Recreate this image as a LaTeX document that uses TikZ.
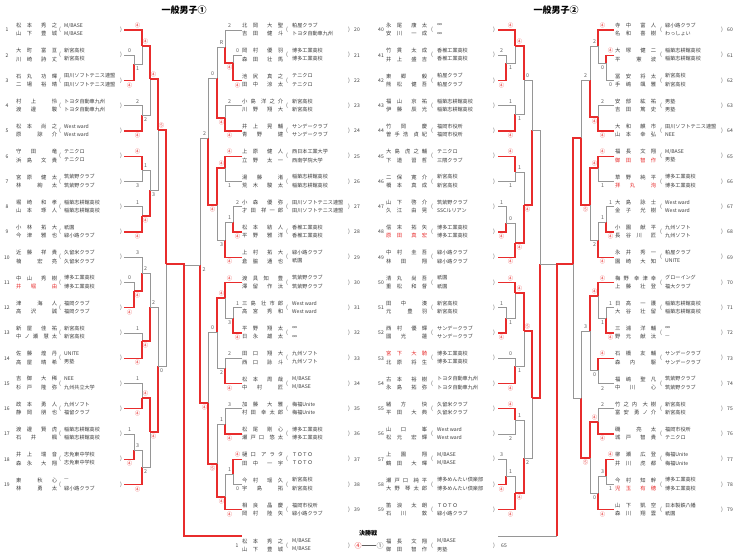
\documentclass[tikz,border=0pt]{standalone}
\usepackage{fontspec}
\setmainfont{Noto Sans CJK JP}
\usetikzlibrary{calc}
\definecolor{rd}{RGB}{232,44,44}
\definecolor{gy}{RGB}{150,150,150}
\definecolor{dg}{RGB}{95,95,95}
\definecolor{tx}{RGB}{60,60,60}
\newlength\nmw \setlength\nmw{41pt}
\def\spr#1#2\sprend{#1\ifx\relax#2\relax\else\hfill\spr#2\sprend\fi}
\newcommand\nm[2]{\hbox to \nmw{\spr#1\sprend\hskip 0pt plus 1.7fill\relax\spr#2\sprend}}
\newcommand\rnm[2]{\textcolor{rd}{\nm{#1}{#2}}}
\tikzset{
 nmst/.style={anchor=west,inner sep=0pt,font=\fontsize{5.3}{6}\selectfont,text=tx},
 clst/.style={anchor=west,inner sep=0pt,font=\fontsize{5.1}{6}\selectfont,text=tx},
 nost/.style={inner sep=0pt,font=\fontsize{5}{6}\selectfont,text=tx},
 pst/.style={inner sep=0pt,font=\fontsize{5.5}{6}\selectfont,text=dg},
 rl/.style={draw=rd,line width=1.1pt},
 gl/.style={draw=gy,line width=0.75pt},
 sc/.style={inner sep=0pt,font=\fontsize{5.3}{6}\selectfont},
 ttl/.style={inner sep=0pt,font=\bfseries\fontsize{9}{10}\selectfont,text=black},
}
% entry: id, shown number, y, name1, name2, club1, club2
\newcommand\EE[7]{%
 \node[nost] (k#1) at (\cNum,#3) {#2};
 \node[nmst] (n#1a) at (\cNm,{#3-4.5}) {#4};
 \node[nmst] (n#1b) at (\cNm,{#3+3.8}) {#5};
 \node[pst] (p#1) at (\cPa,#3) {(};
 \node[clst] (c#1a) at (\cCl,{#3-4.5}) {#6};
 \node[clst] (c#1b) at (\cCl,{#3+3.8}) {#7};
 \node[pst] (q#1) at (\cPb,#3) {)};
}
% match: x, xt, yt, st, xb, yb, sb, yout, id
\newcommand\MT[9]{%
 \draw[gl] (#1,#8) -- (#1,#6) -- (#5,#6);
 \draw[rl] (#2,#3) -- (#1,#3) -- (#1,#8);
 \node[sc,text=rd] (#9t) at ($(#1,#3)!4.5pt!(#2,#3)+(0,-4.4)$) {#4};
 \node[sc,text=dg] (#9b) at ($(#1,#6)!4.5pt!(#5,#6)+(0,4.6)$) {#7};
}
\newcommand\MB[9]{%
 \draw[gl] (#2,#3) -- (#1,#3) -- (#1,#8);
 \draw[rl] (#1,#8) -- (#1,#6) -- (#5,#6);
 \node[sc,text=dg] (#9t) at ($(#1,#3)!4.5pt!(#2,#3)+(0,-4.4)$) {#4};
 \node[sc,text=rd] (#9b) at ($(#1,#6)!4.5pt!(#5,#6)+(0,4.6)$) {#7};
}
\begin{document}
\begin{tikzpicture}[x=1pt,y=-1pt]
\useasboundingbox (0,0) rectangle (740,560);
\fill[white] (0,0) rectangle (740,560);
\node[ttl] (title1) at (184,10) {一般男子①};
\node[ttl] (title2) at (556,10) {一般男子②};
% ---------- column A
\def\cNum{7}\def\cNm{16}\def\cPa{60}\def\cCl{64}\def\cPb{121}
\EE{1}{1}{30}{\nm{松本}{秀之}}{\nm{山下}{豊城}}{M/BASE}{M/BASE}
\EE{2}{2}{55.25}{\nm{大町}{富亘}}{\nm{川崎}{詩丈}}{新宮高校}{新宮高校}
\EE{3}{3}{80.5}{\nm{石丸}{功暉}}{\nm{二場}{裕晴}}{田川ソフトテニス連盟}{田川ソフトテニス連盟}
\EE{4}{4}{105.75}{\nm{村上}{怜}}{\nm{渡邊}{駿}}{トヨタ自動車九州}{トヨタ自動車九州}
\EE{5}{5}{131}{\nm{松本}{尚之}}{\nm{原}{諒介}}{West ward}{West ward}
\EE{6}{6}{156.25}{\nm{守田}{竜}}{\nm{浜島}{文貴}}{テニクロ}{テニクロ}
\EE{7}{7}{181.5}{\nm{宮原}{健太}}{\nm{林}{絢太}}{筑紫野クラブ}{筑紫野クラブ}
\EE{8}{8}{206.75}{\nm{堀崎}{和孝}}{\nm{山本}{琢人}}{稲築志耕館高校}{稲築志耕館高校}
\EE{9}{9}{232}{\nm{小林}{拓大}}{\nm{今津}{雅也}}{祇園}{緑小路クラブ}
\EE{10}{10}{257.25}{\nm{近藤}{祥貴}}{\nm{楠}{宏亮}}{久留米クラブ}{久留米クラブ}
\EE{11}{11}{282.5}{\nm{中山}{秀樹}}{\rnm{井堀}{由}}{博多工業高校}{博多工業高校}
\EE{12}{12}{307.75}{\nm{津}{海人}}{\nm{高沢}{誠}}{福岡クラブ}{福岡クラブ}
\EE{13}{13}{333}{\nm{新屋}{佳祐}}{\nm{中ノ瀬}{慧太}}{新宮高校}{新宮高校}
\EE{14}{14}{358.25}{\nm{佐藤}{煌丹}}{\nm{高屋}{晴希}}{UNITE}{男塾}
\EE{15}{15}{383.5}{\nm{吉御}{大稀}}{\nm{杉戸}{隆弥}}{NEE}{九州共立大学}
\EE{16}{16}{408.75}{\nm{政本}{勇人}}{\nm{静岡}{朋也}}{九州ソフト}{福留クラブ}
\EE{17}{17}{434}{\nm{渡邊}{賢虎}}{\nm{石井}{楓}}{稲築志耕館高校}{稲築志耕館高校}
\EE{18}{18}{459.25}{\nm{井上}{瑞音}}{\nm{森永}{大翔}}{志免東中学校}{志免東中学校}
\EE{19}{19}{484.5}{\nm{東}{秋心}}{\nm{林}{勇太}}{—}{緑小路クラブ}
% ---------- column B
\def\cNum{357}\def\cNm{242}\def\cPa{287}\def\cCl{292}\def\cPb{349}
\EE{20}{20}{30}{\nm{北岡}{大聖}}{\nm{吉田}{健斗}}{粕屋クラブ}{トヨタ自動車九州}
\EE{21}{21}{55.25}{\nm{岡村}{優羽}}{\nm{森田}{壮馬}}{博多工業高校}{博多工業高校}
\EE{22}{22}{80.5}{\nm{池尻}{真之}}{\nm{田中}{涼太}}{テニクロ}{テニクロ}
\EE{23}{23}{105.75}{\nm{小島}{洋之介}}{\nm{川野}{翔大}}{新宮高校}{新宮高校}
\EE{24}{24}{131}{\nm{井上}{晃輔}}{\nm{青野}{建}}{サンデークラブ}{サンデークラブ}
\EE{25}{25}{156.25}{\nm{上原}{健人}}{\nm{立野}{太一}}{西日本工業大学}{西南学院大学}
\EE{26}{26}{181.5}{\nm{湯藤}{渚}}{\nm{荒木}{駿太}}{稲築志耕館高校}{稲築志耕館高校}
\EE{27}{27}{206.75}{\nm{小森}{優弥}}{\nm{才田}{祥一郎}}{田川ソフトテニス連盟}{田川ソフトテニス連盟}
\EE{28}{28}{232}{\nm{松本}{結人}}{\nm{平野}{雅洋}}{香椎工業高校}{香椎工業高校}
\EE{29}{29}{257.25}{\nm{上村}{拓大}}{\nm{倉脇}{通也}}{緑小路クラブ}{祇園}
\EE{30}{30}{282.5}{\nm{渡具知}{豊}}{\nm{澤留}{作汰}}{筑紫野クラブ}{筑紫野クラブ}
\EE{31}{31}{307.75}{\nm{三島}{壮市郎}}{\nm{高宮}{秀和}}{West ward}{West ward}
\EE{32}{32}{333}{\nm{平野}{翔太}}{\nm{日永}{雄太}}{∞}{∞}
\EE{33}{33}{358.25}{\nm{田口}{翔大}}{\nm{西口}{詠斗}}{九州ソフト}{九州ソフト}
\EE{34}{34}{383.5}{\nm{松本}{周哉}}{\nm{中村}{匠}}{M/BASE}{M/BASE}
\EE{35}{35}{408.75}{\nm{加藤}{大雅}}{\nm{村田}{幸太郎}}{梅福Unite}{梅福Unite}
\EE{36}{36}{434}{\nm{松尾}{剛心}}{\nm{瀬戸口}{悠太}}{博多工業高校}{博多工業高校}
\EE{37}{37}{459.25}{\nm{樋口}{アラタ}}{\nm{田中}{一宇}}{ＴＯＴＯ}{ＴＯＴＯ}
\EE{38}{38}{484.5}{\nm{今村}{瑶久}}{\nm{宇島}{拓}}{新宮高校}{新宮高校}
\EE{39}{39}{509.75}{\nm{相良}{晶慶}}{\nm{岡村}{陸矢}}{福岡市役所}{緑小路クラブ}
\def\cNum{237}
\EE{F1}{1}{545.5}{\nm{松本}{秀之}}{\nm{山下}{豊城}}{M/BASE}{M/BASE}
% ---------- column C
\def\cNum{381}\def\cNm{386}\def\cPa{432}\def\cCl{437}\def\cPb{494}
\EE{40}{40}{30}{\nm{永尾}{康太}}{\nm{安川}{一成}}{∞}{∞}
\EE{41}{41}{55.25}{\nm{竹貫}{太成}}{\nm{井上}{盛吉}}{香椎工業高校}{香椎工業高校}
\EE{42}{42}{80.5}{\nm{東郷}{毅}}{\nm{熊松}{健吾}}{粕屋クラブ}{粕屋クラブ}
\EE{43}{43}{105.75}{\nm{福山}{京祐}}{\nm{伊藤}{辰光}}{稲築志耕館高校}{稲築志耕館高校}
\EE{44}{44}{131}{\nm{竹岡}{慶}}{\nm{曽手浩}{貞紀}}{福岡市役所}{福岡市役所}
\EE{45}{45}{156.25}{\nm{大島}{虎之輔}}{\nm{下道}{習哲}}{テニクロ}{三隈クラブ}
\EE{46}{46}{181.5}{\nm{二保}{寛介}}{\nm{橋本}{真成}}{新宮高校}{新宮高校}
\EE{47}{47}{206.75}{\nm{山下}{啓介}}{\nm{久江}{由晃}}{筑紫野クラブ}{SSCルリアン}
\EE{48}{48}{232}{\nm{信末}{拓矢}}{\rnm{原田}{真宏}}{博多工業高校}{博多工業高校}
\EE{49}{49}{257.25}{\nm{中村}{圭吾}}{\nm{林田}{翔}}{緑小路クラブ}{緑小路クラブ}
\EE{50}{50}{282.5}{\nm{清丸}{尚吾}}{\nm{重松}{和督}}{祇園}{祇園}
\EE{51}{51}{307.75}{\nm{田中}{湊}}{\nm{元}{豊羽}}{新宮高校}{新宮高校}
\EE{52}{52}{333}{\nm{西村}{優輝}}{\nm{國光}{蓮}}{サンデークラブ}{サンデークラブ}
\EE{53}{53}{358.25}{\rnm{宮下}{大騎}}{\nm{北原}{将生}}{博多工業高校}{博多工業高校}
\EE{54}{54}{383.5}{\nm{古本}{裕樹}}{\nm{永島}{拓弥}}{トヨタ自動車九州}{トヨタ自動車九州}
\EE{55}{55}{408.75}{\nm{緒方}{快}}{\nm{平田}{大典}}{久留米クラブ}{久留米クラブ}
\EE{56}{56}{434}{\nm{山口}{峯}}{\nm{松元}{宏輝}}{West ward}{West ward}
\EE{57}{57}{459.25}{\nm{上園}{翔}}{\nm{鶴田}{大暉}}{M/BASE}{M/BASE}
\EE{58}{58}{484.5}{\nm{瀬戸口}{純平}}{\nm{大野}{琴太郎}}{博多めんたい倶楽部}{博多めんたい倶楽部}
\EE{59}{59}{509.75}{\nm{笛浪}{太朗}}{\nm{石川}{敦}}{ＴＯＴＯ}{緑小路クラブ}
\def\cNum{504}
\EE{F2}{65}{545.5}{\nm{福長}{文翔}}{\nm{御田}{智作}}{M/BASE}{男塾}
% ---------- column D
\def\cNum{730}\def\cNm{615}\def\cPa{661}\def\cCl{665}\def\cPb{722}
\EE{60}{60}{30}{\nm{寺中}{富人}}{\nm{名和}{喜樹}}{緑小路クラブ}{わっしょい}
\EE{61}{61}{55.25}{\nm{大塚}{健二}}{\nm{平}{憲波}}{稲築志耕館高校}{稲築志耕館高校}
\EE{62}{62}{80.5}{\nm{冨安}{将太}}{\nm{手嶋}{颯雅}}{新宮高校}{新宮高校}
\EE{63}{63}{105.75}{\nm{安部}{紘祐}}{\nm{吉田}{篤史}}{男塾}{男塾}
\EE{64}{64}{131}{\nm{大和}{麒市}}{\nm{山本}{幸弘}}{田川ソフトテニス連盟}{NEE}
\EE{65}{65}{156.25}{\nm{福長}{文翔}}{\rnm{御田}{智作}}{M/BASE}{男塾}
\EE{66}{66}{181.5}{\nm{草野}{純平}}{\rnm{拝丸}{洵}}{博多工業高校}{博多工業高校}
\EE{67}{67}{206.75}{\nm{大島}{詠士}}{\nm{金子}{光樹}}{West ward}{West ward}
\EE{68}{68}{232}{\nm{小園}{献平}}{\nm{長谷川}{匠}}{九州ソフト}{九州ソフト}
\EE{69}{69}{257.25}{\nm{永井}{秀一}}{\nm{園崎}{大知}}{粕屋クラブ}{UNITE}
\EE{70}{70}{282.5}{\nm{梅野}{幸津幸}}{\nm{上藤}{壮登}}{グローイング}{福大クラブ}
\EE{71}{71}{307.75}{\nm{日高}{一護}}{\nm{大谷}{壮留}}{稲築志耕館高校}{稲築志耕館高校}
\EE{72}{72}{333}{\nm{三浦}{洋輔}}{\nm{野元}{献汰}}{∞}{—}
\EE{73}{73}{358.25}{\nm{石橋}{友輔}}{\nm{森内}{駆}}{サンデークラブ}{サンデークラブ}
\EE{74}{74}{383.5}{\nm{福嶋}{聖凡}}{\nm{中川}{心}}{筑紫野クラブ}{筑紫野クラブ}
\EE{75}{75}{408.75}{\nm{竹之内}{大樹}}{\nm{富安}{勇ノ介}}{新宮高校}{新宮高校}
\EE{76}{76}{434}{\nm{磯}{亮太}}{\nm{城戸}{智貴}}{福岡市役所}{テニクロ}
\EE{77}{77}{459.25}{\nm{柳瀬}{広登}}{\nm{井川}{虎都}}{梅福Unite}{梅福Unite}
\EE{78}{78}{484.5}{\nm{今村}{知幹}}{\rnm{児玉}{有穂}}{博多工業高校}{博多工業高校}
\EE{79}{79}{509.75}{\nm{山下}{凱空}}{\nm{森川}{翔雲}}{日本製鉄八幡}{祇園}
% ---------- bracket A
\MB{134}{124}{55.25}{0}{124}{80.5}{④}{64}{a1}
\MT{142}{124}{30}{④}{134}{64}{1}{46}{a2}
\MB{142}{124}{105.75}{2}{124}{131}{④}{115}{a3}
\MT{150}{142}{46}{④}{142}{115}{2}{79}{a4}
\MT{142}{124}{156.25}{④}{124}{181.5}{3}{170}{a5}
\MB{142}{124}{206.75}{1}{124}{232}{④}{216}{a6}
\MB{150}{142}{170}{1}{142}{216}{④}{190}{a7}
\MT{158}{150}{79}{④}{150}{190}{3}{130}{a8}
\MB{134}{124}{282.5}{0}{124}{307.75}{④}{291}{a10}
\MB{142}{124}{257.25}{3}{134}{291}{④}{273}{a11}
\MB{142}{124}{333}{1}{124}{358.25}{④}{341}{a12}
\MB{150}{142}{273}{2}{142}{341}{④}{307}{a13}
\MB{142}{124}{383.5}{1}{124}{408.75}{④}{398}{a14}
\MB{134}{124}{434}{1}{124}{459.25}{④}{450}{a15}
\MB{142}{134}{450}{3}{124}{484.5}{④}{467}{a16}
\MT{150}{142}{398}{④}{142}{467}{2}{432}{a17}
\MB{158}{150}{307}{2}{150}{432}{④}{366}{a18}
\MT{166}{158}{130}{⑤}{158}{366}{0}{264}{a9}
% ---------- bracket B
\MB{233}{242}{55.25}{0}{242}{80.5}{④}{63}{b1}
\MB{225}{242}{30}{2}{233}{63}{④}{47}{b2}
\MB{225}{242}{105.75}{2}{242}{131}{④}{118}{b3}
\MB{217}{225}{47}{R}{225}{118}{④}{78}{b4}
\MT{225}{242}{156.25}{④}{242}{181.5}{1}{168}{b5}
\MB{233}{242}{206.75}{2}{242}{232}{④}{222}{b6}
\MB{225}{233}{222}{1}{242}{257.25}{④}{240}{b7}
\MT{217}{225}{168}{④}{225}{240}{3}{205}{b9}
\MB{208}{217}{78}{0}{217}{205}{④}{138}{b8}
\MB{233}{242}{307.75}{1}{242}{333}{④}{318}{b10}
\MT{225}{242}{282.5}{④}{233}{318}{3}{298}{b11}
\MB{225}{242}{358.25}{2}{242}{383.5}{④}{368}{b12}
\MT{217}{225}{298}{④}{225}{368}{2}{332}{b13}
\MB{225}{242}{408.75}{3}{242}{434}{④}{424}{b14}
\MT{233}{242}{459.25}{④}{242}{484.5}{0}{474}{b15}
\MB{225}{233}{474}{1}{242}{509.75}{④}{497}{b16}
\MB{217}{225}{424}{1}{225}{497}{④}{464}{b17}
\MB{208}{217}{332}{0}{217}{464}{⑤}{403}{b18}
\MB{200}{208}{138}{2}{208}{403}{④}{265}{b19}
% left final
\draw[gl] (200,265) -- (185,265);
\node[sc,text=dg] (lfb) at (204,270) {2};
\draw[rl] (166,264) -- (184,264) -- (184,536) -- (242,536);
% ---------- bracket C
\MB{506}{498}{55.25}{2}{498}{80.5}{④}{63}{c1}
\MT{515}{498}{30}{④}{506}{63}{1}{46}{c2}
\MB{515}{498}{105.75}{1}{498}{131}{④}{114}{c3}
\MT{524}{515}{46}{④}{515}{114}{1}{80}{c4}
\MT{515}{498}{156.25}{④}{498}{181.5}{1}{172}{c5}
\MB{506}{498}{206.75}{1}{498}{232}{④}{223}{c6}
\MB{515}{506}{223}{0}{498}{257.25}{④}{243}{c7}
\MB{524}{515}{172}{1}{515}{243}{④}{205}{c8}
\MB{532}{524}{80}{0}{524}{205}{④}{130}{c9}
\MB{506}{498}{307.75}{1}{498}{333}{④}{318}{c10}
\MT{515}{498}{282.5}{④}{506}{318}{1}{293}{c11}
\MB{515}{498}{358.25}{0}{498}{383.5}{④}{366}{c12}
\MT{524}{515}{293}{④}{515}{366}{1}{331}{c13}
\MT{515}{498}{408.75}{④}{498}{434}{2}{420}{c14}
\MB{506}{498}{459.25}{3}{498}{484.5}{④}{476}{c15}
\MB{515}{506}{476}{1}{498}{509.75}{④}{493}{c16}
\MB{524}{515}{420}{1}{515}{493}{④}{458}{c17}
\MT{532}{524}{331}{⑤}{524}{458}{2}{398}{c18}
\MB{540}{532}{130}{}{532}{398}{}{264}{c19}
% ---------- bracket D
\MT{606}{614}{55.25}{④}{614}{80.5}{0}{63}{d1}
\MT{598}{614}{30}{④}{606}{63}{0}{46}{d2}
\MB{598}{614}{105.75}{2}{614}{131}{④}{117}{d3}
\MB{590}{598}{46}{2}{598}{117}{④}{80}{d4}
\MT{598}{614}{156.25}{④}{614}{181.5}{1}{168}{d5}
\MB{606}{614}{206.75}{1}{614}{232}{④}{222}{d6}
\MB{598}{606}{222}{1}{614}{257.25}{④}{240}{d7}
\MT{590}{598}{168}{④}{598}{240}{2}{205}{d8}
\MB{581}{590}{80}{2}{590}{205}{⑤}{138}{d9}
\MB{606}{614}{307.75}{1}{614}{333}{④}{318}{d10}
\MT{598}{614}{282.5}{④}{606}{318}{1}{296}{d11}
\MT{598}{614}{358.25}{④}{614}{383.5}{2}{370}{d12}
\MT{590}{598}{296}{④}{598}{370}{0}{331}{d13}
\MB{598}{614}{408.75}{2}{614}{434}{④}{422}{d14}
\MT{606}{614}{459.25}{④}{614}{484.5}{1}{476}{d15}
\MB{598}{606}{476}{3}{614}{509.75}{④}{493}{d16}
\MT{590}{598}{422}{④}{598}{493}{0}{458}{d17}
\MB{581}{590}{331}{3}{590}{458}{⑤}{398}{d18}
\MT{573}{581}{138}{}{581}{398}{}{264}{d19}
% right final
\draw[gl] (540,264) -- (557,264);
\draw[gl] (557,536) -- (498,536);
\draw[rl] (573,264) -- (557,264) -- (557,536);
% grand final
\node[inner sep=0pt,font=\bfseries\fontsize{6}{7}\selectfont,text=black] (kessho) at (368,533) {決勝戦};
\node[inner sep=0pt,font=\fontsize{7}{8}\selectfont,text=rd] (fsl) at (358,545.5) {④};
\node[inner sep=0pt,font=\fontsize{7}{8}\selectfont,text=dg] (fsr) at (380,545.5) {①};
\draw[draw=dg,line width=0.6pt] (fsl.east) -- (fsr.west);
\end{tikzpicture}
\end{document}
